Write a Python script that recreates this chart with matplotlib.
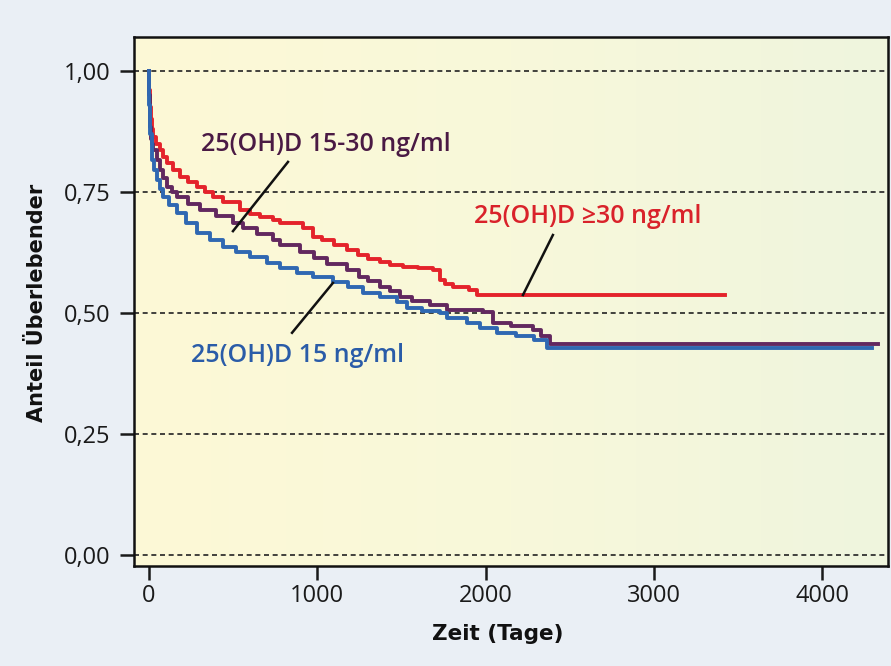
import matplotlib
matplotlib.use("Agg")
import matplotlib.pyplot as plt
import numpy as np
from matplotlib.colors import LinearSegmentedColormap

# ---- data ----
red_x = [0, 2, 6, 12, 18, 24, 40, 65, 85, 107, 140, 184, 230, 285, 330, 380, 440,
         541, 600, 660, 737, 778, 915, 975, 1030, 1100, 1176, 1240, 1300, 1373,
         1430, 1509, 1600, 1688, 1729, 1760, 1806, 1900, 1949, 3422]
red_y = [1.0, 0.96, 0.926, 0.90, 0.88, 0.864, 0.85, 0.837, 0.823, 0.81, 0.795,
         0.781, 0.77, 0.760, 0.75, 0.740, 0.73, 0.713, 0.705, 0.698, 0.692, 0.686,
         0.676, 0.657, 0.650, 0.640, 0.630, 0.62, 0.612, 0.605, 0.60, 0.595, 0.592,
         0.589, 0.568, 0.56, 0.554, 0.548, 0.537, 0.537]

pur_x = [0, 2, 6, 12, 18, 24, 45, 65, 85, 107, 135, 166, 230, 303, 400, 499, 560,
         640, 737, 778, 897, 980, 1060, 1176, 1250, 1300, 1373, 1430, 1491, 1560,
         1670, 1770, 1985, 2044, 2150, 2282, 2330, 2383, 4332]
pur_y = [1.0, 0.95, 0.884, 0.86, 0.85, 0.837, 0.815, 0.795, 0.778, 0.760, 0.75,
         0.740, 0.725, 0.713, 0.70, 0.686, 0.676, 0.663, 0.651, 0.640, 0.626, 0.613,
         0.602, 0.589, 0.575, 0.566, 0.554, 0.545, 0.533, 0.525, 0.517, 0.506,
         0.502, 0.479, 0.472, 0.465, 0.452, 0.435, 0.435]

blu_x = [0, 3, 8, 18, 30, 48, 65, 83, 120, 166, 220, 285, 360, 440, 520, 600, 700,
         778, 880, 975, 1093, 1180, 1272, 1370, 1473, 1533, 1620, 1729, 1770, 1889,
         1967, 2068, 2180, 2290, 2365, 4296]
blu_y = [1.0, 0.93, 0.87, 0.816, 0.795, 0.775, 0.757, 0.740, 0.723, 0.707, 0.685,
         0.665, 0.65, 0.636, 0.626, 0.616, 0.604, 0.593, 0.583, 0.574, 0.564, 0.553,
         0.541, 0.532, 0.523, 0.510, 0.505, 0.500, 0.490, 0.479, 0.469, 0.459,
         0.452, 0.445, 0.428, 0.428]

x_ticks = [0, 1000, 2000, 3000, 4000]
y_ticks = [0.0, 0.25, 0.5, 0.75, 1.0]
y_tick_labels = ["0,00", "0,25", "0,50", "0,75", "1,00"]

labels = ["25(OH)D \u226530 ng/ml", "25(OH)D 15-30 ng/ml", "25(OH)D 15 ng/ml"]
colors = ["#e4232b", "#62285f", "#2f68b2"]

FONT = ["Open Sans", "DejaVu Sans"]
plt.rcParams["font.family"] = FONT

fig = plt.figure(figsize=(8.91, 6.66), dpi=100, facecolor="#eaeff5")
ax = fig.add_axes([0.1504, 0.150, 0.8462, 0.7944])

# background gradient inside axes
cmap = LinearSegmentedColormap.from_list("bg", ["#fdf9d6", "#f8f8da", "#eff5de"])
ax.imshow(np.linspace(0, 1, 256).reshape(1, -1), cmap=cmap, aspect="auto",
          extent=[0, 1, 0, 1], transform=ax.transAxes, zorder=0)

ax.set_xlim(-89, 4391)
ax.set_ylim(-0.023, 1.07)

for yt in y_ticks:
    ax.axhline(yt, color="#222222", lw=1.2, ls=(0, (3, 2.2)), zorder=1)

ax.plot(red_x, red_y, drawstyle="steps-post", color=colors[0], lw=2.8, zorder=3)
ax.plot(pur_x, pur_y, drawstyle="steps-post", color=colors[1], lw=2.8, zorder=3)
ax.plot(blu_x, blu_y, drawstyle="steps-post", color=colors[2], lw=2.8, zorder=4)

ax.set_xticks(x_ticks)
ax.set_yticks(y_ticks)
ax.set_yticklabels(y_tick_labels)
ax.tick_params(axis="both", labelsize=17, length=10, width=1.8, direction="out",
               colors="#1a1a1a")
ax.tick_params(axis="x", pad=3)
ax.tick_params(axis="y", pad=7)
for s in ax.spines.values():
    s.set_linewidth(1.8)
    s.set_color("#111111")

ax.set_xlabel("Zeit (Tage)", fontsize=15.5, fontweight="bold",
              family=["DejaVu Sans"], color="#111111")
ax.set_ylabel("Anteil \u00dcberlebender", fontsize=15, fontweight="bold",
              family=["DejaVu Sans"], color="#111111")
ax.xaxis.set_label_coords(0.483, -0.110)
ax.yaxis.set_label_coords(-0.116, 0.497)

# annotations
ax.text(2608, 0.700, labels[0], color="#d9222a", fontsize=18, fontweight="semibold",
        ha="center", va="center", zorder=5)
ax.plot([2400, 2222], [0.661, 0.537], color="#111111", lw=1.8, zorder=5)

ax.text(1049, 0.849, labels[1], color="#4a1a44", fontsize=18, fontweight="semibold",
        ha="center", va="center", zorder=5)
ax.plot([826, 499], [0.812, 0.669], color="#111111", lw=1.8, zorder=5)

ax.text(880, 0.413, labels[2], color="#2a5ca8", fontsize=18, fontweight="semibold",
        ha="center", va="center", zorder=5)
ax.plot([1093, 850], [0.562, 0.459], color="#111111", lw=1.8, zorder=5)

fig.savefig("out.png", dpi=100, facecolor=fig.get_facecolor())
